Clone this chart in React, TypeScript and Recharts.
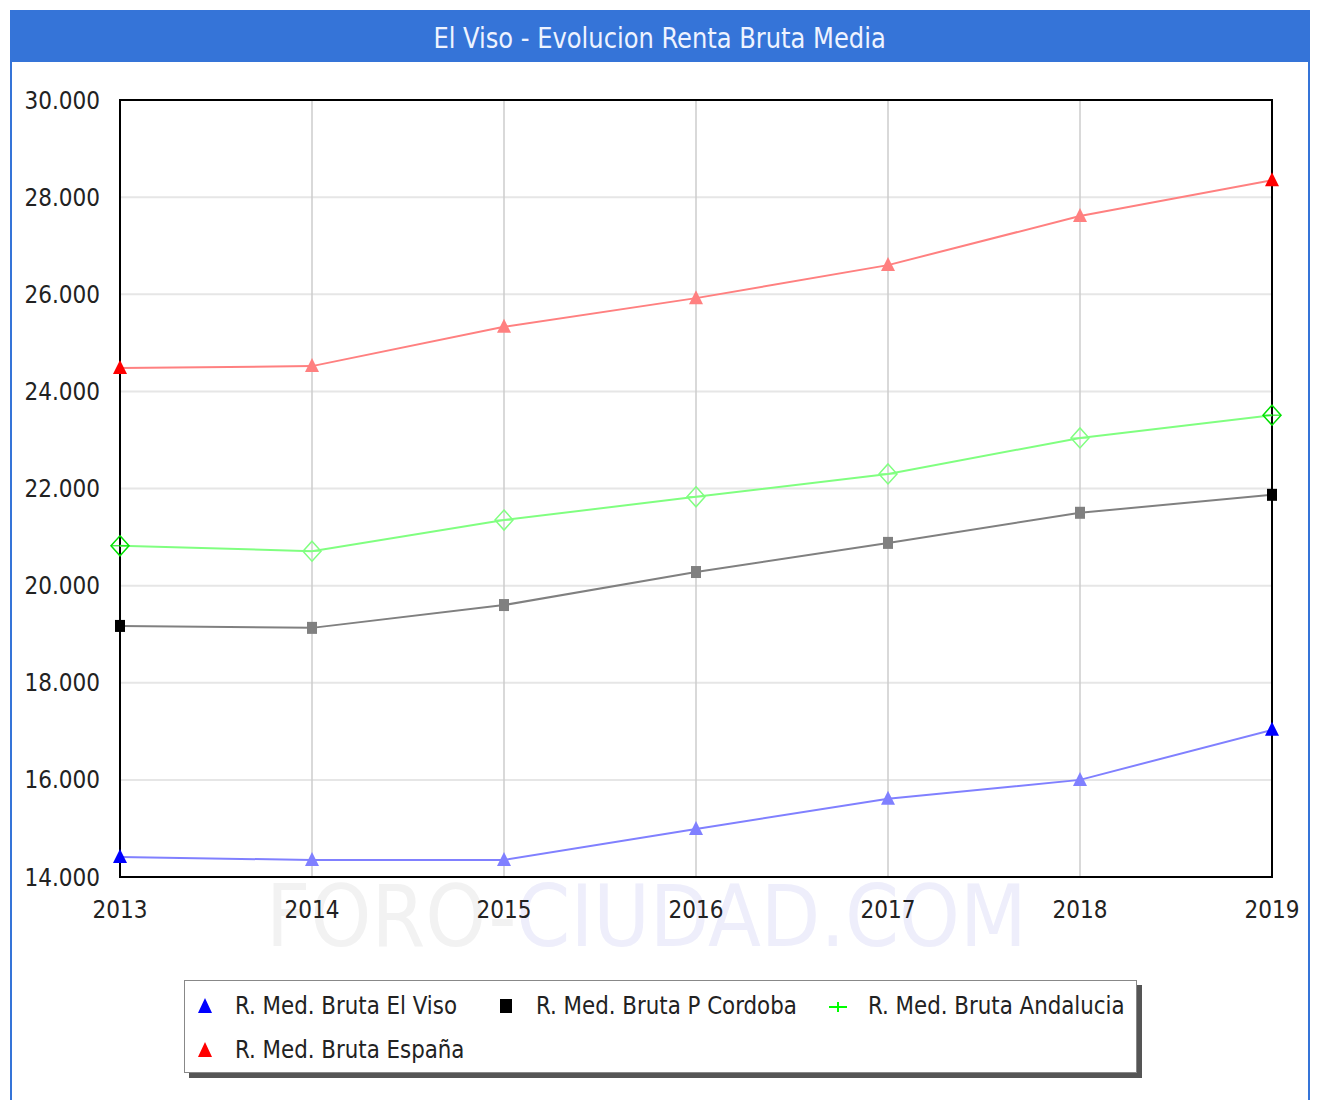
import React from "react";
import { LineChart, Line, XAxis, YAxis, CartesianGrid, ReferenceArea } from "recharts";

const years = ["2013", "2014", "2015", "2016", "2017", "2018", "2019"];
const elViso = [14410, 14350, 14350, 14990, 15610, 16000, 17030];
const cordoba = [19170, 19130, 19600, 20280, 20880, 21500, 21870];
const andalucia = [20820, 20710, 21350, 21830, 22300, 23040, 23510];
const espana = [24480, 24520, 25330, 25920, 26600, 27610, 28350];
const yTicks = [14000, 16000, 18000, 20000, 22000, 24000, 26000, 28000, 30000];

const seriesNames = [
  "R. Med. Bruta El Viso",
  "R. Med. Bruta P Cordoba",
  "R. Med. Bruta Andalucia",
  "R. Med. Bruta España",
];

const data = years.map((y, i) => ({
  year: y,
  viso: elViso[i],
  cordoba: cordoba[i],
  andalucia: andalucia[i],
  espana: espana[i],
}));

const FONT = "'DejaVu Sans Condensed', 'DejaVu Sans', sans-serif";
const STRETCH = "condensed";
const BLUE = "#3574D8";

const fmt = (v: number) => String(v).replace(/\B(?=(\d{3})+(?!\d))/g, ".");

const lastIdx = years.length - 1;

const makeDot = (kind: string, strong: string, light: string) => (props: any) => {
  const { cx, cy, index } = props;
  if (cx == null || cy == null) return <g key={`d-${kind}-${index}`} />;
  const end = index === 0 || index === lastIdx;
  const c = end ? strong : light;
  const k = `d-${kind}-${index}`;
  if (kind === "tri") {
    return (
      <path
        key={k}
        d={`M${cx},${cy - 8} L${cx + 7},${cy + 6} L${cx - 7},${cy + 6} Z`}
        fill={c}
        stroke="none"
      />
    );
  }
  if (kind === "sq") {
    return <rect key={k} x={cx - 5} y={cy - 6} width={10} height={12} fill={c} />;
  }
  return (
    <g key={k}>
      <path
        d={`M${cx},${cy - 10} L${cx + 9},${cy} L${cx},${cy + 10} L${cx - 9},${cy} Z`}
        fill="none"
        stroke={c}
        strokeWidth={1.5}
      />
      <line x1={cx - 9} y1={cy} x2={cx + 9} y2={cy} stroke={c} strokeWidth={1} />
    </g>
  );
};

const LegendIcon = ({ kind, color }: { kind: string; color: string }) => (
  <svg width={24} height={24} style={{ display: "block" }}>
    {kind === "tri" && <path d="M12,4 L19,19 L5,19 Z" fill={color} />}
    {kind === "sq" && <rect x={6} y={5} width={12} height={14} fill={color} />}
    {kind === "cross" && (
      <g>
        <line x1={3} y1={13} x2={21} y2={13} stroke={color} strokeWidth={2} />
        <line x1={12} y1={8} x2={12} y2={18} stroke={color} strokeWidth={2} />
      </g>
    )}
  </svg>
);

const legendItems = [
  { name: seriesNames[0], kind: "tri", color: "#0000FF", x: 8, y: 10 },
  { name: seriesNames[1], kind: "sq", color: "#000000", x: 309, y: 10 },
  { name: seriesNames[2], kind: "cross", color: "#00FF00", x: 641, y: 10 },
  { name: seriesNames[3], kind: "tri", color: "#FF0000", x: 8, y: 54 },
];

const tickStyle = { fill: "#222", fontSize: 24, fontFamily: FONT, fontStretch: STRETCH } as any;

export default function App() {
  return (
    <div
      style={{
        position: "relative",
        width: 1300,
        height: 1092,
        marginLeft: 2,
        marginTop: 2,
        background: "#fff",
        fontFamily: FONT,
        fontStretch: STRETCH,
      }}
    >
      <div
        style={{
          position: "absolute",
          left: 0,
          top: 0,
          width: 1300,
          height: 1092,
          boxSizing: "border-box",
          border: `2px solid ${BLUE}`,
          borderBottom: "none",
        }}
      />
      <div
        style={{
          position: "absolute",
          left: 0,
          top: 0,
          width: 1300,
          height: 52,
          background: BLUE,
          color: "#EEF3FF",
          fontSize: 28,
          lineHeight: "58px",
          textAlign: "center",
          fontFamily: FONT,
          fontStretch: STRETCH,
        }}
      >
        <span style={{ display: "inline-block", transform: "scaleX(0.96)" }}>
          El Viso - Evolucion Renta Bruta Media
        </span>
      </div>
      <div
        style={{
          position: "absolute",
          left: 256,
          top: 858,
          fontSize: 86,
          lineHeight: "96px",
          fontFamily: FONT,
          fontStretch: STRETCH,
          whiteSpace: "nowrap",
        }}
      >
        <span style={{ color: "#F2F2F2" }}>FORO-</span>
        <span style={{ color: "#EEEEFB" }}>CIUDAD.COM</span>
      </div>
      <div style={{ position: "absolute", left: 0, top: 0 }}>
        <LineChart
          width={1300}
          height={1000}
          data={data}
          margin={{ top: 90, right: 38, bottom: 93, left: 10 }}
        >
          <CartesianGrid stroke="#E6E6E6" strokeWidth={2} vertical={false} />
          <CartesianGrid stroke="#CCCCCC" strokeWidth={1.5} horizontal={false} />
          <XAxis
            dataKey="year"
            height={40}
            tickLine={false}
            axisLine={false}
            tickSize={6}
            tickMargin={18}
            interval={0}
            tick={tickStyle}
          />
          <YAxis
            width={100}
            domain={[14000, 30000]}
            ticks={yTicks}
            interval={0}
            tickFormatter={fmt}
            tickLine={false}
            axisLine={false}
            tickSize={6}
            tickMargin={14}
            tick={tickStyle}
          />
          <ReferenceArea
            x1="2013"
            x2="2019"
            y1={14000}
            y2={30000}
            fill="none"
            fillOpacity={0}
            stroke="#000"
            strokeWidth={2}
            ifOverflow="visible"
          />
          <Line
            dataKey="espana"
            stroke="#FF8080"
            strokeWidth={2}
            dot={makeDot("tri", "#FF0000", "#FF8080")}
            isAnimationActive={false}
          />
          <Line
            dataKey="andalucia"
            stroke="#80FF80"
            strokeWidth={2}
            dot={makeDot("dia", "#00E000", "#80FF80")}
            isAnimationActive={false}
          />
          <Line
            dataKey="cordoba"
            stroke="#808080"
            strokeWidth={2}
            dot={makeDot("sq", "#000000", "#808080")}
            isAnimationActive={false}
          />
          <Line
            dataKey="viso"
            stroke="#8080FF"
            strokeWidth={2}
            dot={makeDot("tri", "#0000FF", "#8080FF")}
            isAnimationActive={false}
          />
        </LineChart>
      </div>
      <div
        style={{
          position: "absolute",
          left: 174,
          top: 970,
          width: 953,
          height: 93,
          boxSizing: "border-box",
          border: "1.5px solid #888",
          background: "#fff",
          boxShadow: "5px 5px 0 #555",
        }}
      >
        {legendItems.map((it) => (
          <div
            key={it.name}
            style={{
              position: "absolute",
              left: it.x,
              top: it.y,
              display: "flex",
              alignItems: "center",
              whiteSpace: "nowrap",
            }}
          >
            <LegendIcon kind={it.kind} color={it.color} />
            <span
              style={{
                marginLeft: 18,
                fontSize: 25,
                color: "#222",
                fontFamily: FONT,
                fontStretch: STRETCH,
                display: "inline-block",
                transform: "scaleX(0.95)",
                transformOrigin: "left center",
              }}
            >
              {it.name}
            </span>
          </div>
        ))}
      </div>
    </div>
  );
}
